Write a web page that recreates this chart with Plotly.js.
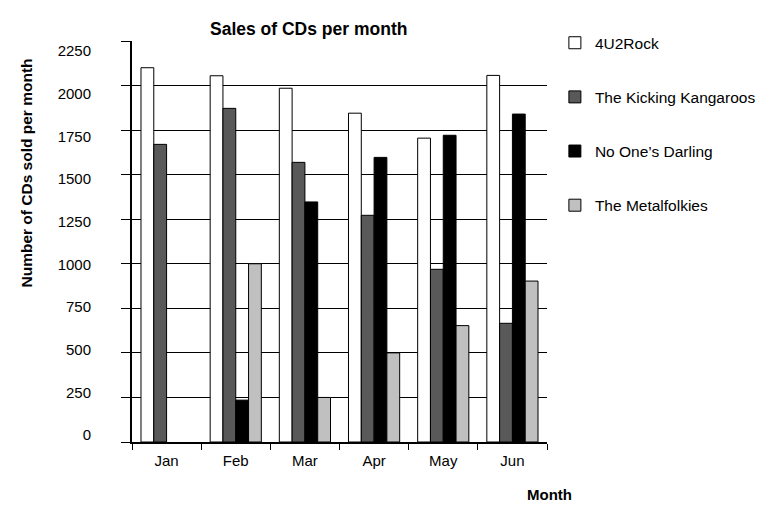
<!DOCTYPE html>
<html><head><meta charset="utf-8">
<script src="https://cdn.plot.ly/plotly-3.0.1.min.js"></script>
<style>html,body{margin:0;padding:0;background:#fff}#chart{width:765px;height:505px}</style>
</head><body><div id="chart"></div>
<script>
const months = ["Jan","Feb","Mar","Apr","May","Jun"];
const seriesNames = ["4U2Rock","The Kicking Kangaroos","No One\u2019s Darling","The Metalfolkies"];
const rock4u2 = [2100, 2055, 1985, 1845, 1705, 2057];
const kangaroos = [1670, 1872, 1569, 1272, 969, 666];
const darling = [null, 235, 1347, 1597, 1721, 1840];
const metalfolkies = [null, 1000, 250, 500, 653, 903];
const yTicks = [0,250,500,750,1000,1250,1500,1750,2000,2250];
const colors = ["#ffffff","#595959","#000000","#c0c0c0"];
const values = [rock4u2, kangaroos, darling, metalfolkies];

const font = "Liberation Sans, Arial, sans-serif";
const traces = values.map((v,i)=>({
  type:"bar", name: seriesNames[i], x: months, y: v,
  marker:{color: colors[i], line:{color:"#000", width:1}},
  legendgroup: "g"+i, hoverinfo:"skip"
}));
traces.push({type:"scatter", x: months, y: months.map(()=>null), yaxis:"y2", showlegend:false, hoverinfo:"skip"});

const layout = {
  width:765, height:505, paper_bgcolor:"#fff", plot_bgcolor:"#fff",
  margin:{l:132, r:218, t:41, b:63, autoexpand:false},
  font:{family:font, size:15, color:"#000"},
  barmode:"group", bargap:0.26, bargroupgap:0,
  xaxis:{type:"category", showline:true, linecolor:"#000", linewidth:2,
    ticks:"outside", tickson:"boundaries", ticklen:6, tickcolor:"#000", tickwidth:1,
    showgrid:false, tickfont:{size:15}, ticklabelstandoff:4},
  yaxis:{range:[0,2250], tickvals:yTicks, showticklabels:false, showline:true, linecolor:"#000", linewidth:2,
    ticks:"outside", ticklen:9, tickcolor:"#000", showgrid:true, gridcolor:"#000", gridwidth:1, zeroline:false},
  yaxis2:{overlaying:"y", side:"left", range:[-41, 2308.6], tickvals:yTicks, showgrid:false, showline:false,
    zeroline:false, ticks:"", ticklabelstandoff:40, tickfont:{size:15}},
  showlegend:true,
  legend:{x:1.019, y:1.037, xanchor:"left", yanchor:"top", font:{size:15.5}, tracegroupgap:31, bgcolor:"rgba(0,0,0,0)", traceorder:"grouped"},
  annotations:[
    {text:"<b>Sales of CDs per month</b>", xref:"paper", yref:"paper", x:0.425, y:1.0, xanchor:"center", yanchor:"bottom", showarrow:false, font:{size:17.5}},
    {text:"<b>Number of CDs sold per month</b>", xref:"paper", yref:"paper", x:-0.255, y:0.67, xanchor:"center", yanchor:"middle", textangle:-90, showarrow:false, font:{size:15.5}},
    {text:"<b>Month</b>", xref:"paper", yref:"paper", x:1.007, y:-0.132, xanchor:"center", yanchor:"middle", showarrow:false, font:{size:15}}
  ]
};
Plotly.newPlot("chart", traces, layout, {staticPlot:true});
</script></body></html>
